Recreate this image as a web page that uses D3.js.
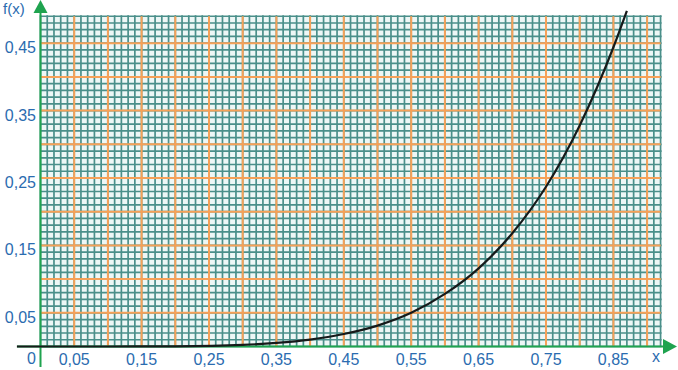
<!DOCTYPE html>
<html>
<head>
<meta charset="utf-8">
<script src="https://cdn.jsdelivr.net/npm/d3@7"></script>
<style>
  body { margin: 0; background: #fff; }
  svg { display: block; font-family: "Liberation Sans", Arial, sans-serif; }
</style>
</head>
<body>
<svg id="chart" width="678" height="370"></svg>
<script>
// values
var curveX = [-0.035, 0, 0.1, 0.2, 0.3, 0.35, 0.4, 0.45, 0.5, 0.55, 0.6, 0.65, 0.7, 0.75, 0.8, 0.85, 0.87];
var curveY = [0, 0, 0.00001, 0.0003, 0.0024, 0.0053, 0.0102, 0.0185, 0.031, 0.050, 0.078, 0.116, 0.168, 0.237, 0.328, 0.444, 0.498];

var xTicks = [0.05, 0.15, 0.25, 0.35, 0.45, 0.55, 0.65, 0.75, 0.85];
var xTickLabels = ["0,05", "0,15", "0,25", "0,35", "0,45", "0,55", "0,65", "0,75", "0,85"];
var yTicks = [0.05, 0.15, 0.25, 0.35, 0.45];
var yTickLabels = ["0,05", "0,15", "0,25", "0,35", "0,45"];

var svg = d3.select("#chart");

// same px per unit on both axes (square paper)
var x = d3.scaleLinear().domain([0, 0.92]).range([40.5, 40.5 + 0.92 * 674]);
var y = d3.scaleLinear().domain([0, 0.49]).range([346.5, 346.5 - 0.49 * 674]);

var teal = "#4a8f8a", orange = "#f6a158", green = "#1fa34f", blue = "#2b6cb0";

// paper background
svg.append("rect")
    .attr("x", x(0)).attr("y", y(0.49))
    .attr("width", x(0.92) - x(0)).attr("height", y(0) - y(0.49))
    .attr("fill", "#edf7f6");

var fineX = d3.range(0, 93).map(function(i) { return i / 100; });
var fineY = d3.range(0, 50).map(function(i) { return i / 100; });

var grid = svg.append("g");
// fine lines every 0.01
grid.selectAll(".vx").data(fineX).join("line")
    .attr("x1", d => x(d)).attr("x2", d => x(d))
    .attr("y1", y(0)).attr("y2", y(0.49) - 1)
    .attr("stroke", teal).attr("stroke-width", 1.7);
grid.selectAll(".hy").data(fineY).join("line")
    .attr("y1", d => y(d)).attr("y2", d => y(d))
    .attr("x1", x(0)).attr("x2", x(0.92) + 1)
    .attr("stroke", teal).attr("stroke-width", 1.7);

// orange lines every 0.05
var majX = fineX.filter(function(d, i) { return i % 5 === 0 && i > 0; });
var majY = fineY.filter(function(d, i) { return i % 5 === 0 && i > 0; });
grid.selectAll(".ox").data(majX).join("line")
    .attr("x1", d => x(d)).attr("x2", d => x(d))
    .attr("y1", y(0)).attr("y2", y(0.49))
    .attr("stroke", orange).attr("stroke-width", 2);
grid.selectAll(".oy").data(majY).join("line")
    .attr("y1", d => y(d)).attr("y2", d => y(d))
    .attr("x1", x(0)).attr("x2", x(0.92))
    .attr("stroke", orange).attr("stroke-width", 2);

// axes
svg.append("line")
    .attr("x1", 17).attr("x2", 665)
    .attr("y1", y(0)).attr("y2", y(0))
    .attr("stroke", green).attr("stroke-width", 2);
svg.append("path")
    .attr("d", "M663," + (y(0) - 7.5) + "L677," + y(0) + "L663," + (y(0) + 7.5) + "Z")
    .attr("fill", green);
svg.append("line")
    .attr("x1", x(0)).attr("x2", x(0))
    .attr("y1", 367).attr("y2", 10)
    .attr("stroke", green).attr("stroke-width", 2);
svg.append("path")
    .attr("d", "M" + (x(0) - 7) + ",13L" + x(0) + ",0L" + (x(0) + 7) + ",13Z")
    .attr("fill", green);

// curve
var pts = curveX.map(function(d, i) { return [d, curveY[i]]; });
var line = d3.line()
    .x(d => x(d[0])).y(d => y(d[1]))
    .curve(d3.curveMonotoneX);
svg.append("path")
    .datum(pts)
    .attr("d", line)
    .attr("fill", "none")
    .attr("stroke", "#161a1a")
    .attr("stroke-width", 2.2);

// labels
svg.selectAll(".xl").data(xTicks).join("text")
    .attr("x", d => x(d)).attr("y", 365)
    .attr("text-anchor", "middle")
    .attr("font-size", 16).attr("fill", blue)
    .text((d, i) => xTickLabels[i]);
svg.selectAll(".yl").data(yTicks).join("text")
    .attr("x", 36).attr("y", d => y(d) + 10)
    .attr("text-anchor", "end")
    .attr("font-size", 16).attr("fill", blue)
    .text((d, i) => yTickLabels[i]);
svg.append("text").attr("x", 31.5).attr("y", 364).attr("text-anchor", "middle")
    .attr("font-size", 16).attr("fill", blue).text("0");
svg.append("text").attr("x", 656).attr("y", 362).attr("text-anchor", "middle")
    .attr("font-size", 16).attr("fill", blue).text("x");
svg.append("text").attr("x", 3).attr("y", 14)
    .attr("font-size", 15).attr("fill", blue).text("f(x)");
</script>
</body>
</html>
